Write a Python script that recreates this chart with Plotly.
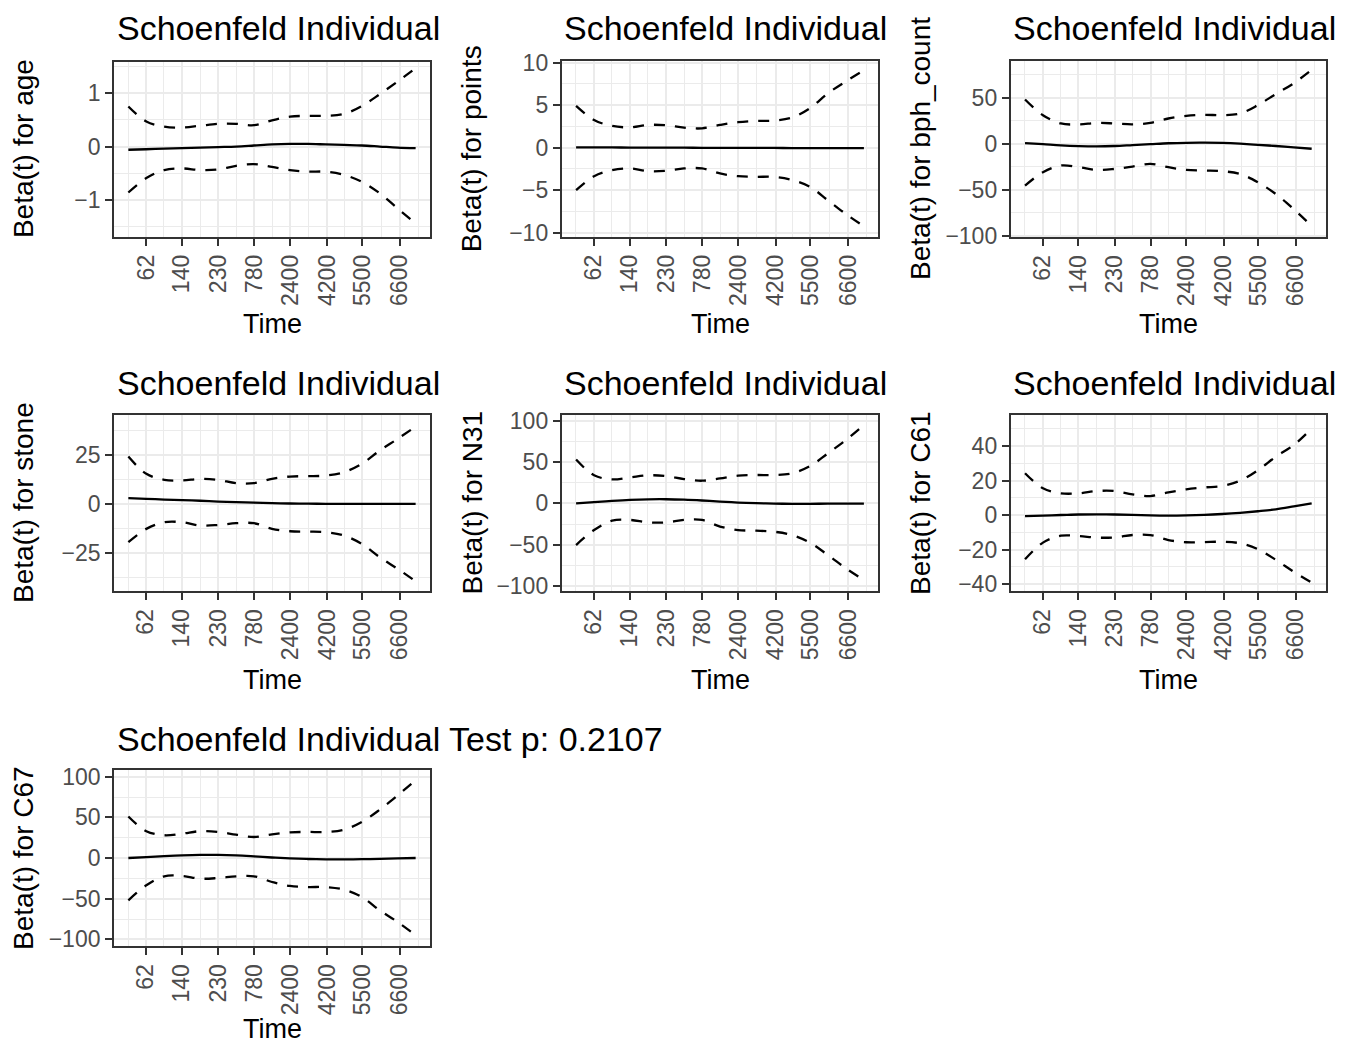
import plotly.graph_objects as go

# ---------------- data ----------------
# transformed time positions (0..1) at which the curves were read
t_pos = [0, 0.0625, 0.125, 0.1875, 0.25, 0.3125, 0.375, 0.4375, 0.5,
         0.5625, 0.625, 0.6875, 0.75, 0.8125, 0.875, 0.9375, 1.0]

time_tick_pos = [0.0615, 0.186, 0.313, 0.438, 0.563, 0.693, 0.814, 0.945]
time_tick_labels = ["62", "140", "230", "780", "2400", "4200", "5500", "6600"]

age_beta = [-0.06, -0.05, -0.04, -0.03, -0.02, -0.01, 0.0, 0.02, 0.04, 0.05, 0.05, 0.04, 0.03, 0.02, 0.0, -0.02, -0.03]
age_upper = [0.75, 0.47, 0.375, 0.356, 0.39, 0.425, 0.425, 0.40, 0.49, 0.56, 0.575, 0.575, 0.61, 0.76, 0.98, 1.22, 1.47]
age_lower = [-0.86, -0.59, -0.44, -0.41, -0.44, -0.43, -0.36, -0.33, -0.38, -0.44, -0.47, -0.47, -0.53, -0.66, -0.875, -1.16, -1.44]
age_ticks = [-1, 0, 1]

points_beta = [0.05, 0.04, 0.03, 0.02, 0.01, 0.0, 0.0, -0.01, -0.02, -0.02, -0.03, -0.03, -0.04, -0.04, -0.05, -0.05, -0.05]
points_upper = [4.92, 3.27, 2.56, 2.4, 2.68, 2.64, 2.36, 2.28, 2.68, 3.0, 3.15, 3.19, 3.54, 4.65, 6.4, 7.8, 9.1]
points_lower = [-5.0, -3.35, -2.64, -2.44, -2.76, -2.72, -2.44, -2.44, -3.03, -3.35, -3.43, -3.43, -3.8, -4.6, -6.2, -7.8, -9.25]
points_ticks = [-10, -5, 0, 5, 10]

bph_beta = [0.7, -0.5, -1.8, -2.6, -2.9, -2.5, -1.5, -0.5, 0.5, 1.0, 1.1, 0.8, 0.0, -1.2, -2.5, -4.0, -5.5]
bph_upper = [48, 31, 22, 21, 22.6, 22, 21, 22.6, 27.4, 30.3, 31.4, 31, 32.8, 42, 54, 65.7, 80.3]
bph_lower = [-45.6, -31, -23.7, -25.5, -28.5, -27.4, -24.8, -21.9, -25.5, -28.5, -29.2, -29.9, -32.8, -42, -54.7, -71.2, -89.4]
bph_ticks = [-100, -50, 0, 50]

stone_beta = [2.9, 2.6, 2.2, 1.9, 1.6, 1.2, 0.9, 0.6, 0.4, 0.2, 0.1, 0.05, 0.0, 0.0, 0.0, 0.0, 0.0]
stone_upper = [24.2, 15.4, 12.3, 12.0, 12.8, 12.3, 10.6, 10.6, 12.8, 14.0, 14.2, 14.5, 16.2, 20.5, 27.3, 33.3, 39.6]
stone_lower = [-19.6, -12.8, -9.4, -9.4, -11.1, -10.8, -9.9, -9.9, -12.8, -14.0, -14.2, -14.5, -16.2, -20.5, -27.3, -33.3, -39.6]
stone_ticks = [-25, 0, 25]

n31_beta = [0.0, 1.5, 3.0, 4.2, 4.9, 5.0, 4.5, 3.5, 2.2, 1.0, 0.2, -0.3, -0.5, -0.5, -0.4, -0.3, -0.2]
n31_upper = [53, 34, 29, 31.5, 34, 33, 29.4, 27.4, 30.2, 33.5, 34.3, 34.3, 36.3, 45, 60.5, 76.6, 94.8]
n31_lower = [-50.4, -32.3, -21, -20, -23, -23, -20, -20, -28, -32.3, -33, -34.3, -38.3, -47.6, -62.5, -78.6, -92.7]
n31_ticks = [-100, -50, 0, 50, 100]

c61_beta = [-0.6, -0.3, 0.0, 0.3, 0.4, 0.3, 0.1, -0.2, -0.3, -0.2, 0.1, 0.6, 1.3, 2.2, 3.3, 5.0, 6.8]
c61_upper = [24.2, 15.5, 12.6, 12.6, 13.9, 13.9, 12.0, 11.0, 13.1, 14.9, 16.0, 16.8, 19.9, 26.0, 33.8, 40.6, 50.2]
c61_lower = [-25.7, -16.0, -12.0, -12.2, -13.1, -13.0, -11.6, -11.6, -14.5, -15.8, -15.7, -15.5, -16.4, -19.8, -26.0, -32.9, -39.2]
c61_ticks = [-40, -20, 0, 20, 40]

c67_beta = [0.0, 1.0, 2.2, 3.2, 3.8, 3.8, 3.2, 2.0, 0.6, -0.5, -1.2, -1.6, -1.7, -1.5, -1.0, -0.5, 0.0]
c67_upper = [51, 33, 28, 30, 33, 32, 28.7, 25.8, 29, 31.6, 32, 32, 34.8, 44.3, 59.4, 77, 95.5]
c67_lower = [-52, -33.6, -22.5, -22.1, -25.4, -24.6, -22.5, -22.5, -29.5, -34.4, -35.7, -35.7, -38.9, -48, -64.3, -78.7, -95]
c67_ticks = [-100, -50, 0, 50, 100]

variables = ["age", "points", "bph_count", "stone", "N31", "C61", "C67"]
title_short = "Schoenfeld Individual"
title_full = "Schoenfeld Individual Test p: 0.2107"

series = [
    (age_beta, age_upper, age_lower, age_ticks),
    (points_beta, points_upper, points_lower, points_ticks),
    (bph_beta, bph_upper, bph_lower, bph_ticks),
    (stone_beta, stone_upper, stone_lower, stone_ticks),
    (n31_beta, n31_upper, n31_lower, n31_ticks),
    (c61_beta, c61_upper, c61_lower, c61_ticks),
    (c67_beta, c67_upper, c67_lower, c67_ticks),
]

# ---------------- layout (pixel geometry) ----------------
W, H = 1357, 1045
# plot-area boxes: left, right, top, bottom (px)
boxes = [
    (114, 430, 61.5, 236.7),
    (561.7, 878.3, 61, 236.7),
    (1010.7, 1326, 61, 237),
    (114, 430, 415, 591),
    (561.7, 878.3, 415, 591),
    (1010.7, 1326, 415, 591),
    (114, 430, 770, 946),
]
yranges = [
    [-1.688, 1.593],
    [-10.47, 10.2],
    [-101.4, 89.9],
    [-44.6, 45.5],
    [-106.0, 106.9],
    [-44.06, 58.0],
    [-108.2, 108.2],
]
ytitle_x = [23, 471.5, 920, 23, 471.5, 920, 23]
title_y = [28, 28, 28, 383, 383, 383, 738.5]
# bottom edge (px) of the "Time" label box
time_bottom = [340, 340, 340, 695.5, 695.5, 695.5, 1045]

FONT = "Liberation Sans, Arial, Helvetica, sans-serif"
GRID = "#EBEBEB"
DARK = "#333333"
TICKTXT = "#4D4D4D"

fig = go.Figure()
annotations = []


def fmt(v):
    s = ("%g" % v)
    return s.replace("-", "\u2212")


def minor_vals(ticks, rng):
    vals = []
    for a, b in zip(ticks[:-1], ticks[1:]):
        vals.append((a + b) / 2)
    vals.append(ticks[0] - (ticks[1] - ticks[0]) / 2)
    vals.append(ticks[-1] + (ticks[-1] - ticks[-2]) / 2)
    return [v for v in vals if rng[0] <= v <= rng[1]]


xr = [-0.05, 1.05]
x_minor = minor_vals(time_tick_pos, xr)

for i, (var, (beta, up, lo, yt), box, yr) in enumerate(zip(variables, series, boxes, yranges)):
    n = i + 1
    xa = "x" if n == 1 else "x%d" % n
    ya = "y" if n == 1 else "y%d" % n
    l, r, t, b = box
    xdom = [l / W, r / W]
    ydom = [1 - b / H, 1 - t / H]

    for vals, dash in ((beta, "solid"), (up, "11px,10px"), (lo, "11px,10px")):
        fig.add_trace(go.Scatter(
            x=t_pos, y=vals, mode="lines", xaxis=xa, yaxis=ya,
            line=dict(color="black", width=2.3, dash=dash, shape="spline", smoothing=1.0),
            showlegend=False, hoverinfo="skip"))

    axis_common = dict(
        automargin=False,
        showline=True, mirror=True, linecolor=DARK, linewidth=1.8,
        showgrid=True, gridcolor=GRID, gridwidth=2, zeroline=False,
        ticks="outside", ticklen=7, tickwidth=2, tickcolor=DARK,
        tickfont=dict(family=FONT, size=23, color=TICKTXT),
    )
    xkey = "xaxis" if n == 1 else "xaxis%d" % n
    ykey = "yaxis" if n == 1 else "yaxis%d" % n
    fig.update_layout(**{
        xkey: dict(domain=xdom, anchor=ya, range=xr, tickmode="array",
                   tickvals=time_tick_pos, ticktext=time_tick_labels, tickangle=-90,
                   minor=dict(tickvals=x_minor, showgrid=True, gridcolor=GRID, gridwidth=1, ticks=""),
                   **axis_common),
        ykey: dict(domain=ydom, anchor=xa, range=yr, tickmode="array",
                   tickvals=yt, ticktext=[fmt(v) for v in yt],
                   minor=dict(tickvals=minor_vals(yt, yr), showgrid=True, gridcolor=GRID, gridwidth=1, ticks=""),
                   **axis_common),
    })

    # panel title
    annotations.append(dict(
        text=title_full if n == 7 else title_short, xref="paper", yref="paper",
        x=(l + 0.5) / W, y=1 - title_y[i] / H, xanchor="left", yanchor="middle",
        showarrow=False, font=dict(family=FONT, size=34, color="black")))
    # y-axis title
    annotations.append(dict(
        text="Beta(t) for %s" % var, xref="paper", yref="paper",
        x=ytitle_x[i] / W, y=1 - (t + b) / 2 / H, xanchor="center", yanchor="middle",
        textangle=-90, showarrow=False, font=dict(family=FONT, size=28, color="black")))
    # x-axis title
    annotations.append(dict(
        text="Time", xref="paper", yref="paper",
        x=(l + r) / 2 / W, y=1 - time_bottom[i] / H, xanchor="center", yanchor="bottom",
        borderpad=0, showarrow=False, font=dict(family=FONT, size=27, color="black")))

fig.update_layout(
    width=W, height=H, margin=dict(l=0, r=0, t=0, b=0, autoexpand=False),
    paper_bgcolor="white", plot_bgcolor="white",
    annotations=annotations, showlegend=False,
)

fig.write_html("out.html")
